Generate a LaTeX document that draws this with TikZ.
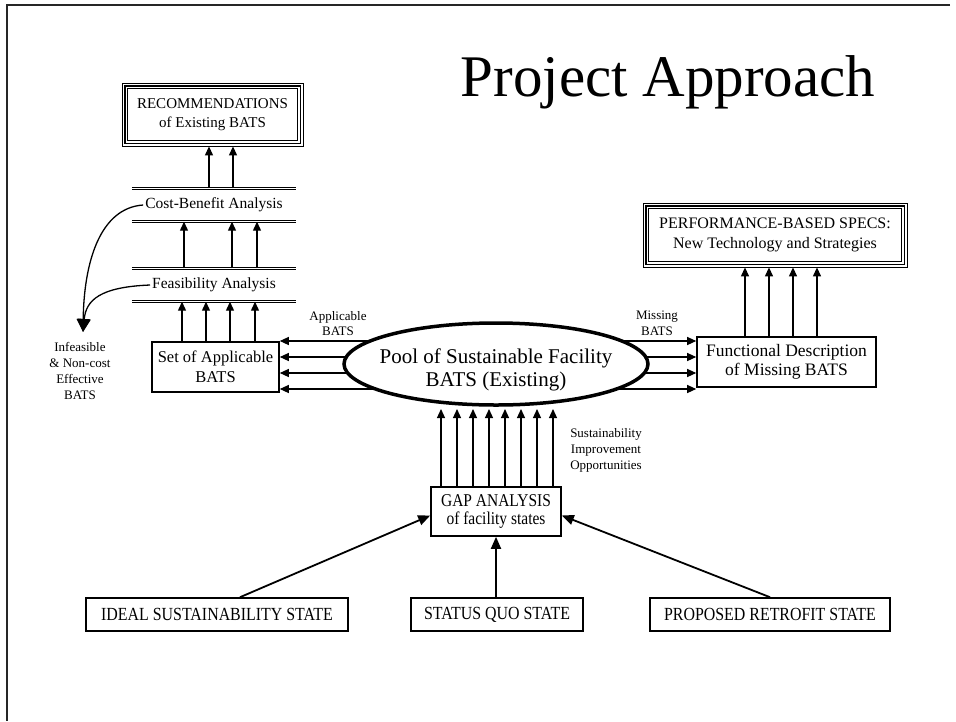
\documentclass[tikz,border=0pt]{standalone}
\usepackage{fontspec}
\usepackage{graphicx}
\setmainfont{Liberation Serif}
\usetikzlibrary{arrows.meta,shapes.geometric}
\pgfdeclarelayer{bg}
\pgfsetlayers{bg,main}
% narrow lettering used in the state boxes
\newcommand{\narrow}[1]{\scalebox{0.86}[1]{#1}}
\begin{document}
\begin{tikzpicture}[x=1pt,y=-1pt,
  box/.style={draw,line width=1.6pt,inner sep=0pt,align=center,
    font=\fontsize{16}{19.5}\selectfont},
  statebox/.style={box,minimum height=33pt,font=\fontsize{18.5}{18}\selectfont},
  bar/.style={inner sep=0pt,minimum height=33pt,minimum width=164pt},
  bartext/.style={inner sep=2pt,font=\fontsize{15.5}{19}\selectfont},
  barline/.style={double,double distance=1.3pt,line width=0.7pt},
  small/.style={align=center,inner sep=0pt,font=\fontsize{13}{15.8}\selectfont},
  arr/.style={line width=1.2pt,-{Triangle[length=9pt,width=8pt]}},
  bigarr/.style={line width=1.8pt,-{Triangle[length=12pt,width=10pt]}},
  curvearr/.style={line width=1.3pt,-{Triangle[length=13pt,width=13pt]}}
]
\useasboundingbox (0,0) rectangle (956,721);

% page frame
\draw[line width=1.4pt,black!85] (950,5) -- (7,5) -- (7,721);

% title
\node[inner sep=0pt,font=\fontsize{59}{70}\selectfont] (title) at (668,82) {Project Approach};

% left column
\node[box,minimum width=181pt,minimum height=63pt,line width=0.8pt,
  font=\fontsize{15}{19.5}\selectfont] (rec) at (212.5,114.5)
  {RECOMMENDATIONS\\of Existing BATS};
\draw[line width=1.8pt] ([shift={(3,3)}]rec.north west) rectangle ([shift={(-3,-3)}]rec.south east);
\draw[line width=0.8pt] ([shift={(6,6)}]rec.north west) rectangle ([shift={(-6,-6)}]rec.south east);

\node[bar] (cb) at (214,205) {};
\node[bartext] (cbt) at (cb.center) {Cost-Benefit Analysis};
\draw[barline] (cb.north west) -- (cb.north east);
\draw[barline] (cb.south west) -- (cb.south east);

\node[bar] (fa) at (214,285) {};
\node[bartext] (fat) at (fa.center) {Feasibility Analysis};
\draw[barline] (fa.north west) -- (fa.north east);
\draw[barline] (fa.south west) -- (fa.south east);

\node[box,minimum width=127pt,minimum height=50pt,font=\fontsize{16.5}{19.5}\selectfont] (set) at (215.5,367)
  {Set of Applicable\\BATS};

\foreach \xx in {209,233}
  \draw[arr] (\xx,0 |- cb.north) -- (\xx,0 |- rec.south);
\foreach \xx in {184,232,257}
  \draw[arr] (\xx,0 |- fa.north) -- (\xx,0 |- cb.south);
\foreach \xx in {182,206,230,255}
  \draw[arr] (\xx,0 |- set.north) -- (\xx,0 |- fa.south);

% rejected options
\coordinate (rej) at (83,332);
\draw[curvearr] (cbt.west) .. controls (100,208) and (84,262) .. (rej);
\draw[curvearr] (fat.west) .. controls (100,287) and (86,300) .. (rej);
\node[small] (infeas) at (80,371) {Infeasible\\\& Non-cost\\Effective\\BATS};

% central pool: a fixed-size ellipse with its two-line label
\draw[line width=3.5pt,fill=white] (496,364) ellipse [x radius=152, y radius=41];
\node[inner sep=0pt,align=center,font=\fontsize{21}{23}\selectfont] (pool) at (496,369.5)
  {Pool of Sustainable Facility\\BATS (Existing)};

% right column
\node[box,minimum width=179pt,minimum height=50pt,font=\fontsize{17.5}{19.5}\selectfont] (func) at (786.5,362)
  {Functional Description\\of Missing BATS};
\node[box,minimum width=264pt,minimum height=64pt,line width=0.8pt] (perf) at (775,235)
  {PERFORMANCE-BASED SPECS:\\New Technology and Strategies};
\draw[line width=1.8pt] ([shift={(3,3)}]perf.north west) rectangle ([shift={(-3,-3)}]perf.south east);
\draw[line width=0.8pt] ([shift={(6,6)}]perf.north west) rectangle ([shift={(-6,-6)}]perf.south east);
\foreach \xx in {745,769,793,817}
  \draw[arr] (\xx,0 |- func.north) -- (\xx,0 |- perf.south);

\begin{pgfonlayer}{bg}
  \foreach \yy in {341,357,373,389} {
    \draw[arr] (pool.center |- 0,\yy) -- (set.east |- 0,\yy);
    \draw[arr] (pool.center |- 0,\yy) -- (func.west |- 0,\yy);
  }
\end{pgfonlayer}
\node[small] (appl) at (338,323.5) {Applicable\\BATS};
\node[small] (miss) at (657,323.5) {Missing\\BATS};

% gap analysis
\node[box,minimum width=130pt,minimum height=49pt,font=\fontsize{18}{18.5}\selectfont] (gap) at (496,511.5)
  {\narrow{GAP ANALYSIS}\\\narrow{of facility states}};
\coordinate (poolin) at (496,409);
\foreach \xx in {441,457,473,489,505,521,537,553}
  \draw[arr] (\xx,0 |- gap.north) -- (\xx,0 |- poolin);
\node[small] (opp) at (606,450.5) {Sustainability\\Improvement\\Opportunities};

% states
\node[statebox,minimum width=262pt] (ideal) at (217,614.5) {\narrow{IDEAL SUSTAINABILITY STATE}};
\node[statebox,minimum width=172pt] (status) at (497,614.5) {\narrow{STATUS QUO STATE}};
\node[statebox,minimum width=240pt] (prop) at (770,614.5) {\narrow{PROPOSED RETROFIT STATE}};

\draw[bigarr] (240,0 |- ideal.north) -- ([yshift=-4pt]gap.west);
\draw[bigarr] (gap.south |- status.north) -- (gap.south);
\draw[bigarr] (770,0 |- prop.north) -- ([yshift=-4pt]gap.east);
\end{tikzpicture}
\end{document}
